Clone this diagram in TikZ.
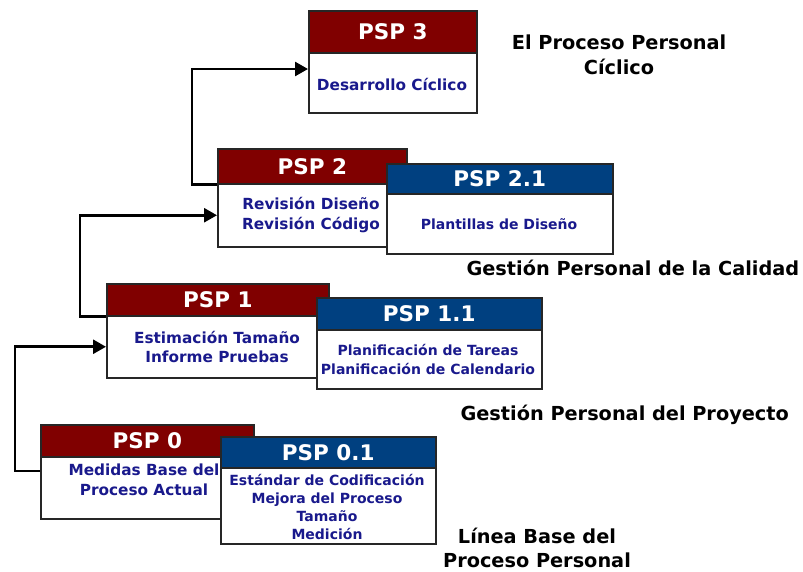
\documentclass[tikz,border=0pt]{standalone}
\usepackage{fontspec}
\setmainfont{DejaVu Sans}
\usetikzlibrary{arrows.meta}
\definecolor{pspred}{RGB}{128,0,0}
\definecolor{pspblue}{RGB}{0,64,128}
\definecolor{bodyblue}{RGB}{25,25,140}
\begin{document}
\begin{tikzpicture}[x=1pt,y=-1pt,
  frame/.style={draw=black!85, line width=1.5pt},
  hdr/.style={frame, anchor=north west, inner sep=0pt, font=\fontsize{21.5}{24}\selectfont\bfseries, text=white},
  redhdr/.style={hdr, fill=pspred},
  bluehdr/.style={hdr, fill=pspblue},
  bodybox/.style={frame, fill=white, anchor=north west, inner sep=0pt},
  bodytext/.style={font=\fontsize{15.3}{19.5}\selectfont\bfseries, text=bodyblue, align=center},
  bluetext/.style={font=\fontsize{14}{19}\selectfont\bfseries, text=bodyblue, align=center},
  smalltext/.style={font=\fontsize{14}{17.7}\selectfont\bfseries, text=bodyblue, align=center},
  label/.style={font=\fontsize{19.3}{24.5}\selectfont\bfseries, align=center},
  conn/.style={line width=2.6pt, -{Triangle[length=13pt,width=14pt]}}]
\useasboundingbox (0,0) rectangle (803,571);

% PSP 3
\node[redhdr, minimum width=168pt, minimum height=42pt] (p3h) at (308,10) {PSP 3};
\node[bodybox, minimum width=168pt, minimum height=60pt] (p3) at (308,52) {};
\node[bodytext] (p3t) at (392,84) {Desarrollo Cíclico};

% PSP 2 and 2.1
\node[redhdr, minimum width=189pt, minimum height=35pt] (p2h) at (217,148) {PSP 2};
\node[bodybox, minimum width=189pt, minimum height=63pt] (p2) at (217,183) {};
\node[bodytext] (p2t) at (311,215) {Revisión Diseño\\Revisión Código};
\node[bluehdr, minimum width=226pt, minimum height=30pt] (p21h) at (386,163) {PSP 2.1};
\node[bodybox, minimum width=226pt, minimum height=60pt] (p21) at (386,193) {};
\node[bluetext] (p21t) at (499,224) {Plantillas de Diseño};

% PSP 1 and 1.1
\node[redhdr, minimum width=222pt, minimum height=32pt] (p1h) at (106,283) {PSP 1};
\node[bodybox, minimum width=222pt, minimum height=62pt] (p1) at (106,315) {};
\node[bodytext] (p1t) at (217,347) {Estimación Tamaño\\Informe Pruebas};
\node[bluehdr, minimum width=225pt, minimum height=32pt] (p11h) at (316,297) {PSP 1.1};
\node[bodybox, minimum width=225pt, minimum height=59pt] (p11) at (316,329) {};
\node[bluetext] (p11t) at (428,359) {Planificación de Tareas\\Planificación de Calendario};

% PSP 0 and 0.1
\node[redhdr, minimum width=213pt, minimum height=32pt] (p0h) at (40,424) {PSP 0};
\node[bodybox, minimum width=213pt, minimum height=62pt] (p0) at (40,456) {};
\node[bodytext] (p0t) at (144,480) {Medidas Base del\\Proceso Actual};
\node[bluehdr, minimum width=215pt, minimum height=31pt] (p01h) at (220,436) {PSP 0.1};
\node[bodybox, minimum width=215pt, minimum height=76pt] (p01) at (220,467) {};
\node[smalltext] (p01t) at (327,507) {Estándar de Codificación\\Mejora del Proceso\\Tamaño\\Medición};

% Connectors between levels
\draw[conn] ([yshift=-15pt]p0.north west) -- ++(-25,0) |- (p1.west);
\draw[conn] (p1h.south west) -- ++(-26,0) |- (p2.west);
\draw[conn] (p2h.south west) -- ++(-25,0) |- ([yshift=-17pt]p3.north west);

% Level labels
\node[label] (l3) at (619,55) {El Proceso Personal\\Cíclico};
\node[label, anchor=west] (lq) at (463,268) {Gestión Personal de la Calidad};
\node[label, anchor=west] (lp) at (457,415) {Gestión Personal del Proyecto};
\node[label] (lb) at (537,548) {Línea Base del\\Proceso Personal};
\end{tikzpicture}
\end{document}
